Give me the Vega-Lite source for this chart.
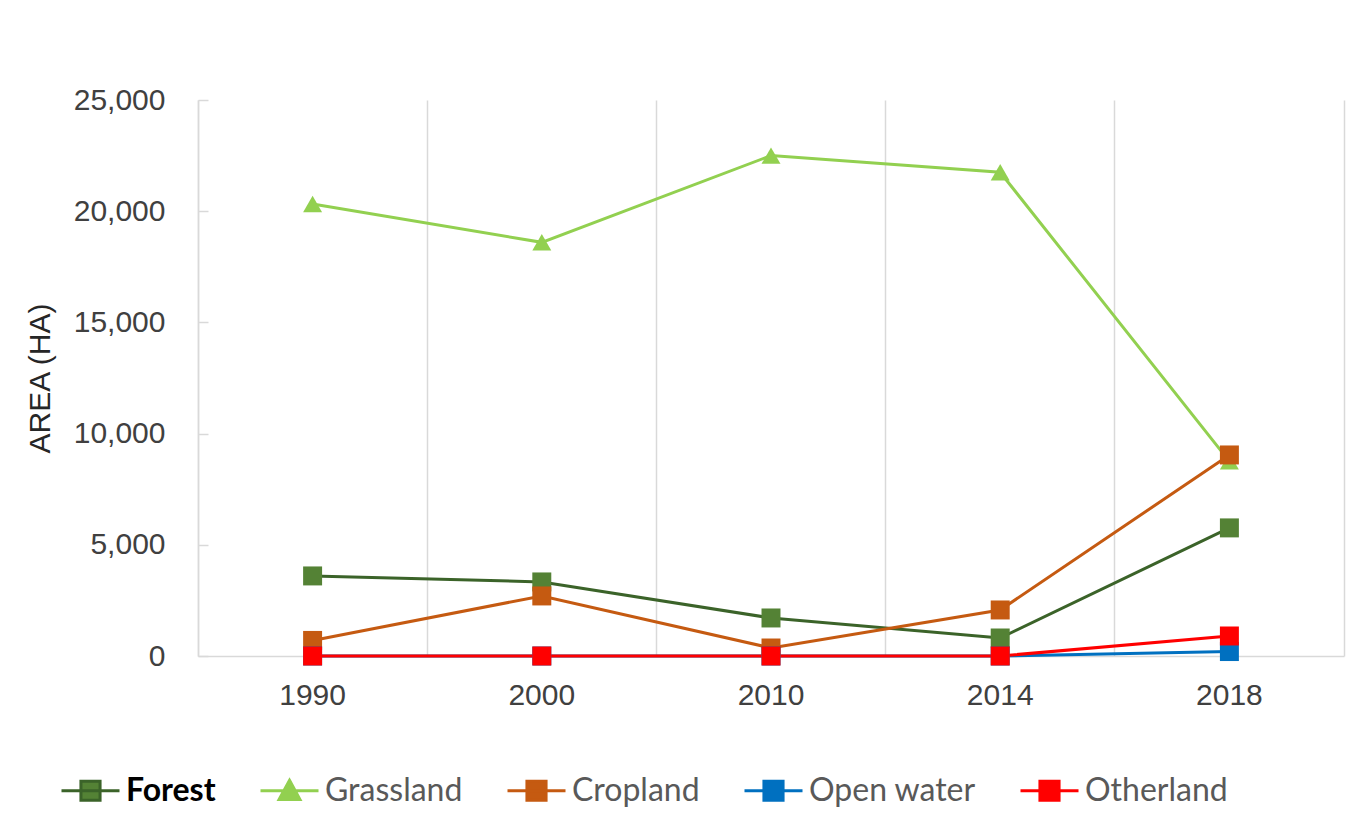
{
  "$schema": "https://vega.github.io/schema/vega-lite/v6.json",
  "autosize": {"type": "none"},
  "width": 1146,
  "height": 556,
  "padding": {"left": 198, "top": 100, "right": 13, "bottom": 167},
  "background": "white",
  "data": {
    "values": [
      {"year": "1990", "type": "Forest", "area": 3600},
      {"year": "2000", "type": "Forest", "area": 3330},
      {"year": "2010", "type": "Forest", "area": 1710},
      {"year": "2014", "type": "Forest", "area": 810},
      {"year": "2018", "type": "Forest", "area": 5760},
      {"year": "1990", "type": "Grassland", "area": 20320},
      {"year": "2000", "type": "Grassland", "area": 18600},
      {"year": "2010", "type": "Grassland", "area": 22500},
      {"year": "2014", "type": "Grassland", "area": 21750},
      {"year": "2018", "type": "Grassland", "area": 8750},
      {"year": "1990", "type": "Cropland", "area": 700},
      {"year": "2000", "type": "Cropland", "area": 2700},
      {"year": "2010", "type": "Cropland", "area": 360},
      {"year": "2014", "type": "Cropland", "area": 2070},
      {"year": "2018", "type": "Cropland", "area": 9040},
      {"year": "1990", "type": "Open water", "area": 0},
      {"year": "2000", "type": "Open water", "area": 0},
      {"year": "2010", "type": "Open water", "area": 0},
      {"year": "2014", "type": "Open water", "area": 0},
      {"year": "2018", "type": "Open water", "area": 200},
      {"year": "1990", "type": "Otherland", "area": 0},
      {"year": "2000", "type": "Otherland", "area": 0},
      {"year": "2010", "type": "Otherland", "area": 0},
      {"year": "2014", "type": "Otherland", "area": 0},
      {"year": "2018", "type": "Otherland", "area": 900}
    ]
  },
  "encoding": {
    "x": {
      "field": "year", "type": "ordinal",
      "scale": {"type": "band", "paddingInner": 0, "paddingOuter": 0},
      "axis": {
        "title": null, "labelAngle": 0, "bandPosition": 0,
        "grid": true, "gridColor": "#d9d9d9", "gridWidth": 1.5,
        "ticks": false, "domainColor": "#d9d9d9", "domainWidth": 1.5,
        "labelFont": "Liberation Sans", "labelFontSize": 30, "labelColor": "#404040",
        "labelPadding": 24, "labelFontWeight": "normal"
      }
    },
    "y": {
      "field": "area", "type": "quantitative",
      "scale": {"domain": [0, 25000], "nice": false, "zero": true}
    }
  },
  "layer": [
    {
      "mark": {"type": "line", "strokeWidth": 3},
      "encoding": {
        "y": {
          "field": "area", "type": "quantitative",
          "axis": {
            "title": "AREA (HA)", "values": [0, 5000, 10000, 15000, 20000, 25000],
            "format": ",.0f", "grid": false,
            "domainColor": "#d9d9d9", "domainWidth": 1.5,
            "tickColor": "#d9d9d9", "tickWidth": 1.5, "tickSize": -10,
            "labelPadding": 43,
            "labelFont": "Liberation Sans", "labelFontSize": 30, "labelColor": "#404040",
            "titleFont": "Liberation Sans", "titleFontSize": 30, "titleColor": "#262626",
            "titleFontWeight": "normal", "titlePadding": 18
          }
        },
        "color": {
          "field": "type", "type": "nominal",
          "scale": {
            "domain": ["Forest", "Grassland", "Cropland", "Open water", "Otherland"],
            "range": ["#3b6329", "#92d050", "#c55a11", "#0070c0", "#ff0000"]
          },
          "legend": {
            "title": null, "orient": "none", "direction": "horizontal",
            "legendX": -138, "legendY": 660,
            "symbolSize": 3364, "symbolStrokeWidth": 3,
            "labelFont": "Lato", "labelFontSize": 32, "labelColor": "#595959",
            "labelOffset": 5, "columnPadding": 38, "labelLimit": 400,
            "encode": {
              "symbols": {
                "update": {
                  "shape": {"signal": "datum.value === 'Grassland' ? 'M-1,0H1M0,-0.36L0.36,0.3H-0.36Z' : 'M-1,0H1M-0.33,-0.33H0.33V0.33H-0.33Z'"},
                  "fill": {"signal": "datum.value === 'Forest' ? '#548235' : datum.value === 'Grassland' ? '#92d050' : datum.value === 'Cropland' ? '#c55a11' : datum.value === 'Open water' ? '#0070c0' : '#ff0000'"},
                  "opacity": {"value": 1}
                }
              },
              "labels": {
                "update": {
                  "fontWeight": {"signal": "datum.value === 'Forest' ? 'bold' : 'normal'"},
                  "fill": {"signal": "datum.value === 'Forest' ? '#000000' : '#595959'"}
                }
              }
            }
          }
        }
      }
    },
    {
      "mark": {"type": "point", "filled": true, "opacity": 1, "size": 360},
      "encoding": {
        "y": {
          "field": "area", "type": "quantitative",
          "axis": {
            "orient": "right", "title": null, "labels": false, "ticks": false, "grid": false,
            "domainColor": "#d9d9d9", "domainWidth": 1.5
          }
        },
        "shape": {
          "condition": {"test": "datum.type === 'Grassland'", "value": "triangle-up"},
          "value": "square"
        },
        "fill": {
          "condition": [
            {"test": "datum.type === 'Forest'", "value": "#548235"},
            {"test": "datum.type === 'Grassland'", "value": "#92d050"},
            {"test": "datum.type === 'Cropland'", "value": "#c55a11"},
            {"test": "datum.type === 'Open water'", "value": "#0070c0"}
          ],
          "value": "#ff0000"
        }
      }
    }
  ],
  "resolve": {"axis": {"y": "independent"}},
  "config": {"view": {"stroke": null}}
}
